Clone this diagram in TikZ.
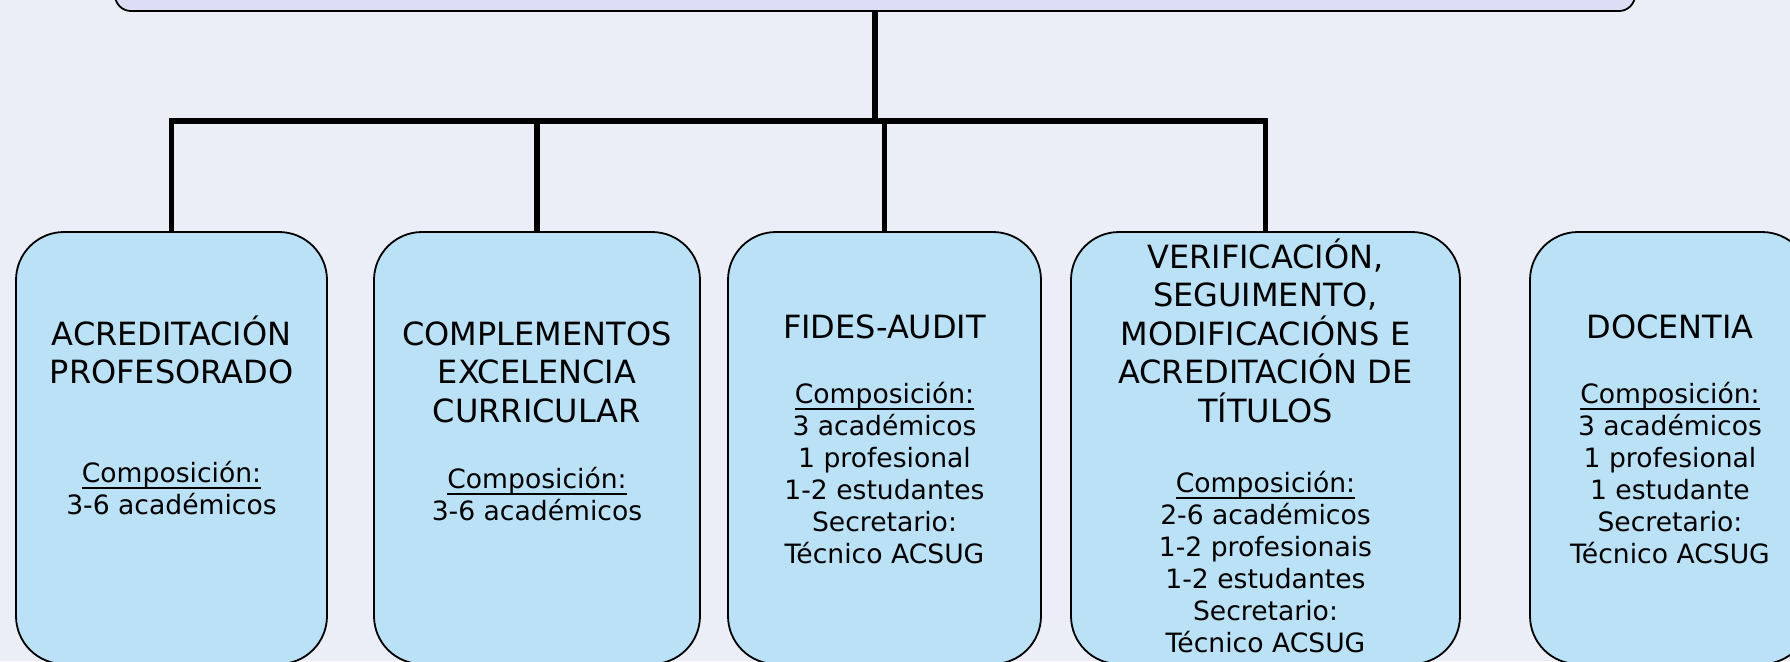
\documentclass[tikz,border=0pt]{standalone}
\usepackage{fontspec}
\setmainfont{DejaVu Sans}
\definecolor{fondo}{RGB}{236,238,247}
\definecolor{lila}{RGB}{220,222,246}
\definecolor{ceo}{RGB}{186,225,246}
\tikzset{
	caixa/.style={draw=black,line width=0.9pt,fill=ceo,rounded corners=24pt,inner sep=0pt},
	trazo/.style={line width=2.6pt,line join=miter},
	titulo/.style={font=\fontsize{16}{19.25}\selectfont,align=center,inner sep=0pt,anchor=north},
	corpo/.style={font=\fontsize{13.3}{16}\selectfont,align=center,inner sep=0pt,anchor=north}
}
\newcommand{\tstrut}{\rule{0pt}{16pt}}
\newcommand{\cstrut}{\rule{0pt}{12pt}}
\newcommand{\subl}[1]{\setbox0\hbox{#1}\rlap{\rule[-3.4pt]{\wd0}{0.9pt}}\box0}
\begin{document}
\begin{tikzpicture}[x=0.5pt,y=-0.5pt]
		\fill[fondo] (0,0) rectangle (1790,661);
		\useasboundingbox (0,0) rectangle (1790,661);
		\node[caixa,fill=lila,rounded corners=8pt,minimum width=760pt,minimum height=40pt] (top) at (875,-29) {};
		\node[caixa,minimum width=155.5pt,minimum height=216pt] (b1) at (171.5,448) {};
		\node[caixa,minimum width=163pt,minimum height=216pt] (b2) at (537,448) {};
		\node[caixa,minimum width=156.5pt,minimum height=216pt] (b3) at (884.5,448) {};
		\node[caixa,minimum width=194.5pt,minimum height=216pt] (b4) at (1265.5,448) {};
		\node[caixa,minimum width=140pt,minimum height=216pt] (b5) at (1670,448) {};
		\coordinate (bar) at (875,121);
		\draw[trazo] (top.south) -- (bar);
		\draw[trazo] (b1.north) |- (bar) -| (b4.north);
		\draw[trazo] (b2.north) -- (b2.north |- bar);
		\draw[trazo] (b3.north) -- (b3.north |- bar);
		\node[titulo] (t1) at (171.5,313) {\tstrut ACREDITACIÓN\\PROFESORADO};
		\node[corpo] (c1) at (171.5,458) {\cstrut\subl{Composición:}\\3-6 académicos};
		\node[titulo] (t2) at (537,313) {\tstrut COMPLEMENTOS\\EXCELENCIA\\CURRICULAR};
		\node[corpo] (c2) at (537,464) {\cstrut\subl{Composición:}\\3-6 académicos};
		\node[titulo] (t3) at (884.5,306) {\tstrut FIDES-AUDIT};
		\node[corpo] (c3) at (884.5,379) {\cstrut\subl{Composición:}\\3 académicos\\1 profesional\\1-2 estudantes\\Secretario:\\Técnico ACSUG};
		\node[titulo] (t4) at (1265.5,236) {\tstrut VERIFICACIÓN,\\SEGUIMENTO,\\MODIFICACIÓNS E\\ACREDITACIÓN DE\\TÍTULOS};
		\node[corpo] (c4) at (1265.5,468) {\cstrut\subl{Composición:}\\2-6 académicos\\1-2 profesionais\\1-2 estudantes\\Secretario:\\Técnico ACSUG};
		\node[titulo] (t5) at (1670,306) {\tstrut DOCENTIA};
		\node[corpo] (c5) at (1670,379) {\cstrut\subl{Composición:}\\3 académicos\\1 profesional\\1 estudante\\Secretario:\\Técnico ACSUG};
\end{tikzpicture}
\end{document}
